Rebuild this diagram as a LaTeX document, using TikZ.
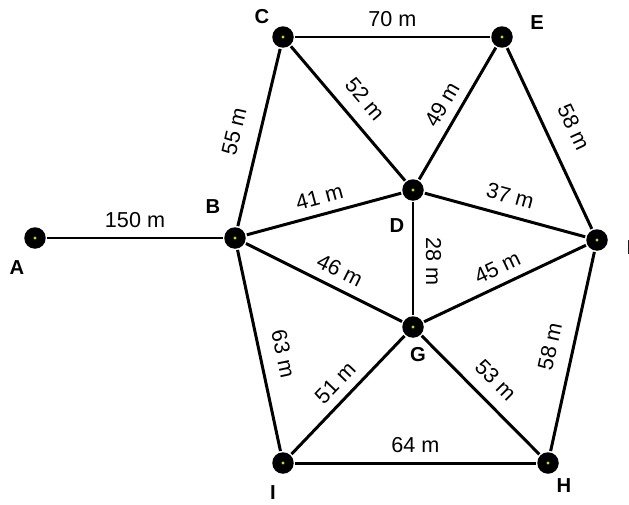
\documentclass[tikz,border=0pt]{standalone}
\usepackage{fontspec}
\setmainfont{Liberation Sans}
\usetikzlibrary{positioning}
\definecolor{cblack}{HTML}{000000}
\definecolor{cyellow}{HTML}{D6D600}
\tikzset{
  every picture/.style={line width=1.7pt},
  dot/.style={circle, fill=cblack, inner sep=0pt, minimum size=0.43cm,
    path picture={\fill[cyellow] (path picture bounding box.center) circle (0.9pt);}},
  letter/.style={font=\bfseries\fontsize{11.5}{13}\selectfont, inner sep=0pt},
  dist/.style={font=\fontsize{12.3}{14}\selectfont, sloped, above=#1, inner sep=2pt},
  dist/.default=3pt,
}

\begin{document}
\begin{tikzpicture}[x=0.02cm, y=-0.02cm]
  \useasboundingbox (0,0) rectangle (629,504);
  % junctions
  \node[dot] (A) at (35,238) {};
  \node[dot] (B) at (235,238) {};
  \node[dot] (C) at (283,37) {};
  \node[dot] (E) at (502,37) {};
  \node[dot] (D) at (413,190) {};
  \node[dot] (F) at (597,240) {};
  \node[dot] (G) at (413,327) {};
  \node[dot] (I) at (283,463) {};
  \node[dot] (H) at (548,463) {};
  % names
  \node[letter] (tA) at (17,268) {A};
  \node[letter] (tB) at (213,207) {B};
  \node[letter] (tC) at (262,17) {C};
  \node[letter] (tE) at (537,23) {E};
  \node[letter] (tD) at (397,226) {D};
  \node[letter] (tF) at (633,248) {F};
  \node[letter] (tG) at (418,355) {G};
  \node[letter] (tI) at (273,493) {I};
  \node[letter] (tH) at (564,486) {H};
  % distances
  \draw (A) -- node[dist] {150 m} (B);
  \draw (C) -- node[dist] {70 m} (E);
  \draw (B) -- node[dist=7.5pt] {55 m} (C);
  \draw (C) -- node[dist=5.5pt] {52 m} (D);
  \draw (D) -- node[dist] {49 m} (E);
  \draw (E) -- node[dist=8pt] {58 m} (F);
  \draw (B) -- node[dist] {41 m} (D);
  \draw (D) -- node[dist=4pt] {37 m} (F);
  \draw (B) -- node[dist, pos=0.55] {46 m} (G);
  \draw (D) -- node[dist=4.5pt, pos=0.53, allow upside down] {28 m} (G);
  \draw (G) -- node[dist] {45 m} (F);
  \draw (B) -- node[dist=6pt, pos=0.54] {63 m} (I);
  \draw (I) -- node[dist] {51 m} (G);
  \draw (G) -- node[dist=5pt] {53 m} (H);
  \draw (H) -- node[dist=6pt] {58 m} (F);
  \draw (I) -- node[dist] {64 m} (H);
\end{tikzpicture}
\end{document}
